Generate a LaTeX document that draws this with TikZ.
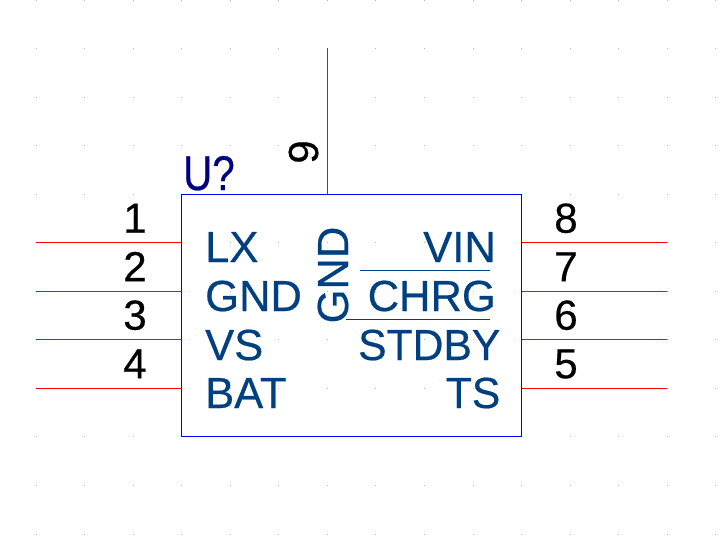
\documentclass[tikz,border=0pt]{standalone}
\usepackage{fontspec}
\setmainfont{Liberation Sans}
\usetikzlibrary{positioning}
\definecolor{pincol}{RGB}{255,0,0}
\definecolor{bodycol}{RGB}{0,0,255}
\definecolor{namecol}{RGB}{0,64,128}
\definecolor{refcol}{RGB}{0,0,128}
\definecolor{dotcol}{RGB}{185,185,185}
\newcommand{\heavyfont}[1]{\fontsize{#1}{#1}\selectfont\addfontfeature{FakeBold=0.5}}
\tikzset{
	pin/.style={pincol,line width=1pt},
	pinnum/.style={black,inner sep=0,font=\heavyfont{42}},
	pinname/.style={namecol,inner sep=0,font=\heavyfont{43.5}},
	bar/.style={namecol,line width=1pt},
}
\begin{document}
\begin{tikzpicture}[x=1pt,y=-1pt]
		\useasboundingbox[fill=white] (0,0) rectangle (724,550);
		% grid dots
		\foreach \i in {0,...,14}
			\foreach \j in {0,...,11}
				\fill[dotcol] (36+48.56*\i-0.5,48.55*\j-0.5) rectangle ++(1,1);
		\node[draw=bodycol,line width=1pt,minimum width=340pt,minimum height=242pt,inner sep=0] (ic) at (351,315.25) {};
		\node[refcol,anchor=base west,inner sep=0,font=\heavyfont{42},xscale=0.96,yscale=1.16] (ref) at (183,190) {U?};
		% left and right pins
		\foreach \num/\y in {1/242.5,2/291,3/339.5,4/388} {
			\coordinate (l\num) at (36,\y);
			\draw[pin] (l\num) -- (l\num -| ic.west);
			\node[pinnum,anchor=base] (n\num) at (135,\y-9.8) {\num};
		}
		\foreach \num/\y in {8/242.5,7/291,6/339.5,5/388} {
			\coordinate (r\num) at (566,\y);
			\coordinate (e\num) at (667,\y);
			\draw[pin] (e\num) -- (e\num -| ic.east);
			\node[pinnum,anchor=base] (n\num) at (r\num) [yshift=9.8pt] {\num};
		}
		% top pin
		\coordinate (t9) at (327,48);
		\draw[pin] (t9) -- (t9 |- ic.north);
		\node[pinnum,rotate=90,anchor=base] (n9) at (318,152) {9};
		% names
		\node[pinname,anchor=base west] (lx) at (205,262) {LX};
		\node[pinname,anchor=base west] (gnda) at (205,311) {GND};
		\node[pinname,anchor=base west] (vs) at (205,360) {VS};
		\node[pinname,anchor=base west] (bat) at (205,408) {BAT};
		\node[pinname,anchor=base east] (vin) at (496,262) {VIN};
		\node[pinname,anchor=base east] (chrg) at (496,311) {CHRG};
		\node[pinname,anchor=base east,xscale=0.98] (stdby) at (500.5,360) {STDBY};
		\node[pinname,anchor=base east,xscale=0.98] (ts) at (500.5,408) {TS};
		\node[pinname,rotate=90,anchor=base] (gndb) at (348,275) {GND};
		\draw[bar] (360,270.5) -- (490,270.5);
		\draw[bar] (346,319) -- (490,319);
	\end{tikzpicture}
\end{document}
